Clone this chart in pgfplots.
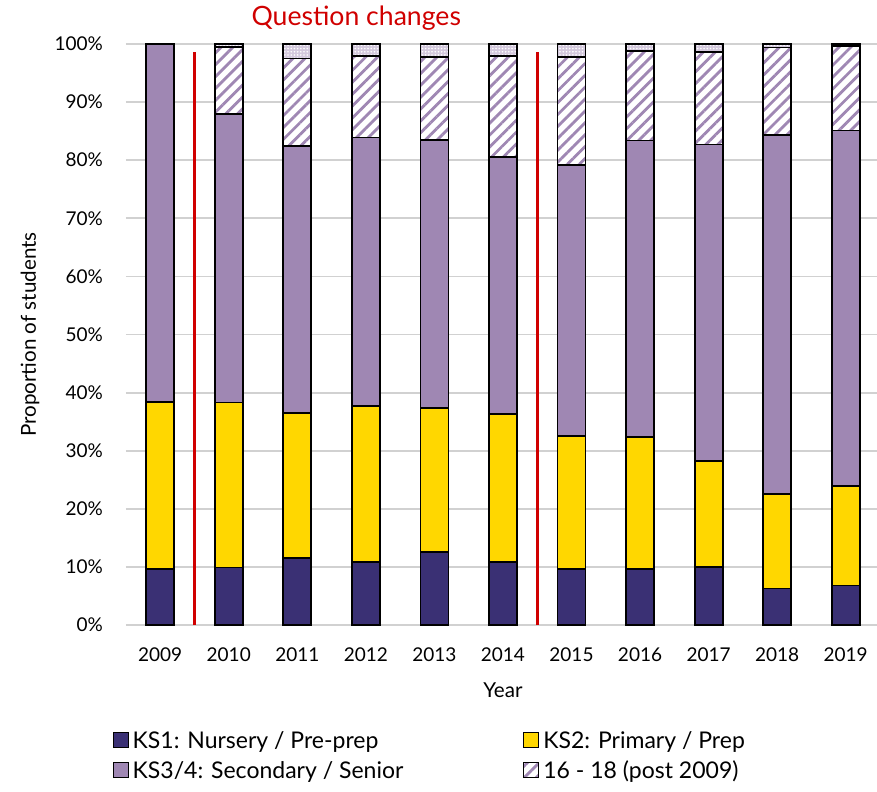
\documentclass[border=0pt]{standalone}
\usepackage{fontspec}
\setmainfont{Lato}
\usepackage{pgfplots}
\usepackage{pgfplotstable}
\pgfplotsset{compat=1.18}
\usetikzlibrary{patterns,patterns.meta}

\definecolor{ksnavy}{HTML}{3A3074}
\definecolor{ksyellow}{HTML}{FFD700}
\definecolor{kspurple}{HTML}{9F87B3}
\definecolor{qred}{HTML}{D00000}

% segment sizes in percent
\pgfplotstableread{
year ks1  ks2  ks34 post other
2009 9.6  28.8 61.6 0    0
2010 9.9  28.4 49.7 11.5 0.5
2011 11.6 24.9 45.9 15.1 2.5
2012 10.9 26.8 46.2 14.1 2.0
2013 12.6 24.7 46.2 14.3 2.2
2014 10.9 25.4 44.3 17.4 2.0
2015 9.6  22.9 46.7 18.6 2.2
2016 9.6  22.8 51.0 15.4 1.2
2017 10.0 18.3 54.4 15.9 1.4
2018 6.3  16.2 61.8 15.1 0.6
2019 6.8  17.1 61.2 14.5 0.4
}\students

\begin{document}
\begin{tikzpicture}
\begin{axis}[
    scale only axis,
    width=377pt, height=290.5pt,
    ybar stacked, bar width=14pt,
    xmin=2008.5, xmax=2019.5,
    ymin=0, ymax=100,
    xtick={2009,...,2019},
    ytick={0,10,...,100},
    /pgf/number format/assume math mode=true,
    xticklabel style={/pgf/number format/1000 sep={}, yshift=-8pt, font=\fontsize{9.5}{11}\selectfont},
    yticklabel={\pgfmathprintnumber{\tick}\%},
    yticklabel style={xshift=-8pt, font=\fontsize{9.5}{11}\selectfont},
    major tick length=0pt,
    axis line style={draw=none},
    ymajorgrids,
    grid style={black!18, line width=0.9pt},
    xlabel={Year},
    ylabel={Proportion of students},
    label style={font=\fontsize{10.3}{12}\selectfont},
    xlabel style={at={(axis description cs:0.5,-0.112)}, anchor=center},
    ylabel style={at={(axis description cs:-0.127,0.5)}, anchor=center},
    clip=false,
    legend columns=2,
    legend cell align=left,
    legend style={draw=none, at={(axis description cs:-0.026,-0.168)}, anchor=north west,
        font=\fontsize{11.5}{13}\selectfont,
        row sep=1pt,
        /tikz/every even column/.append style={column sep=58pt}},
    legend image code/.code={\draw[#1, line width=0.5pt] (0pt,-3.2pt) rectangle (7.5pt,4.3pt);},
    every axis plot/.append style={draw=black, line width=0.9pt},
]
\addplot[fill=ksnavy] table[x=year, y=ks1] {\students};
\addlegendentry{KS1: Nursery / Pre-prep}
\addplot[fill=ksyellow] table[x=year, y=ks2] {\students};
\addlegendentry{KS2: Primary / Prep}
\addplot[fill=kspurple] table[x=year, y=ks34] {\students};
\addlegendentry{KS3/4: Secondary / Senior}
\addplot[fill=white, postaction={pattern={Lines[angle=45, distance=4.2pt, line width=1.4pt]}, pattern color=kspurple}] table[x=year, y=post] {\students};
\addlegendentry{16 - 18 (post 2009)}
\addplot[forget plot, fill=kspurple!45, postaction={pattern={Dots[distance=1.6pt, radius=0.45pt]}, pattern color=white}] table[x=year, y=other] {\students};

\draw[qred, line width=1.5pt] (axis cs:2009.5,0) -- (axis cs:2009.5,98.6);
\draw[qred, line width=1.5pt] (axis cs:2014.5,0) -- (axis cs:2014.5,98.6);
\node[qred, font=\fontsize{13.3}{15}\selectfont] at (axis cs:2011.86,104.5) {Question changes};

\coordinate (bl) at (axis description cs:-0.167,-0.2857);
\coordinate (tr) at (axis description cs:0.996,1.0757);
\end{axis}
\pgfresetboundingbox
\path[use as bounding box] (bl) rectangle (tr);
\end{tikzpicture}
\end{document}
